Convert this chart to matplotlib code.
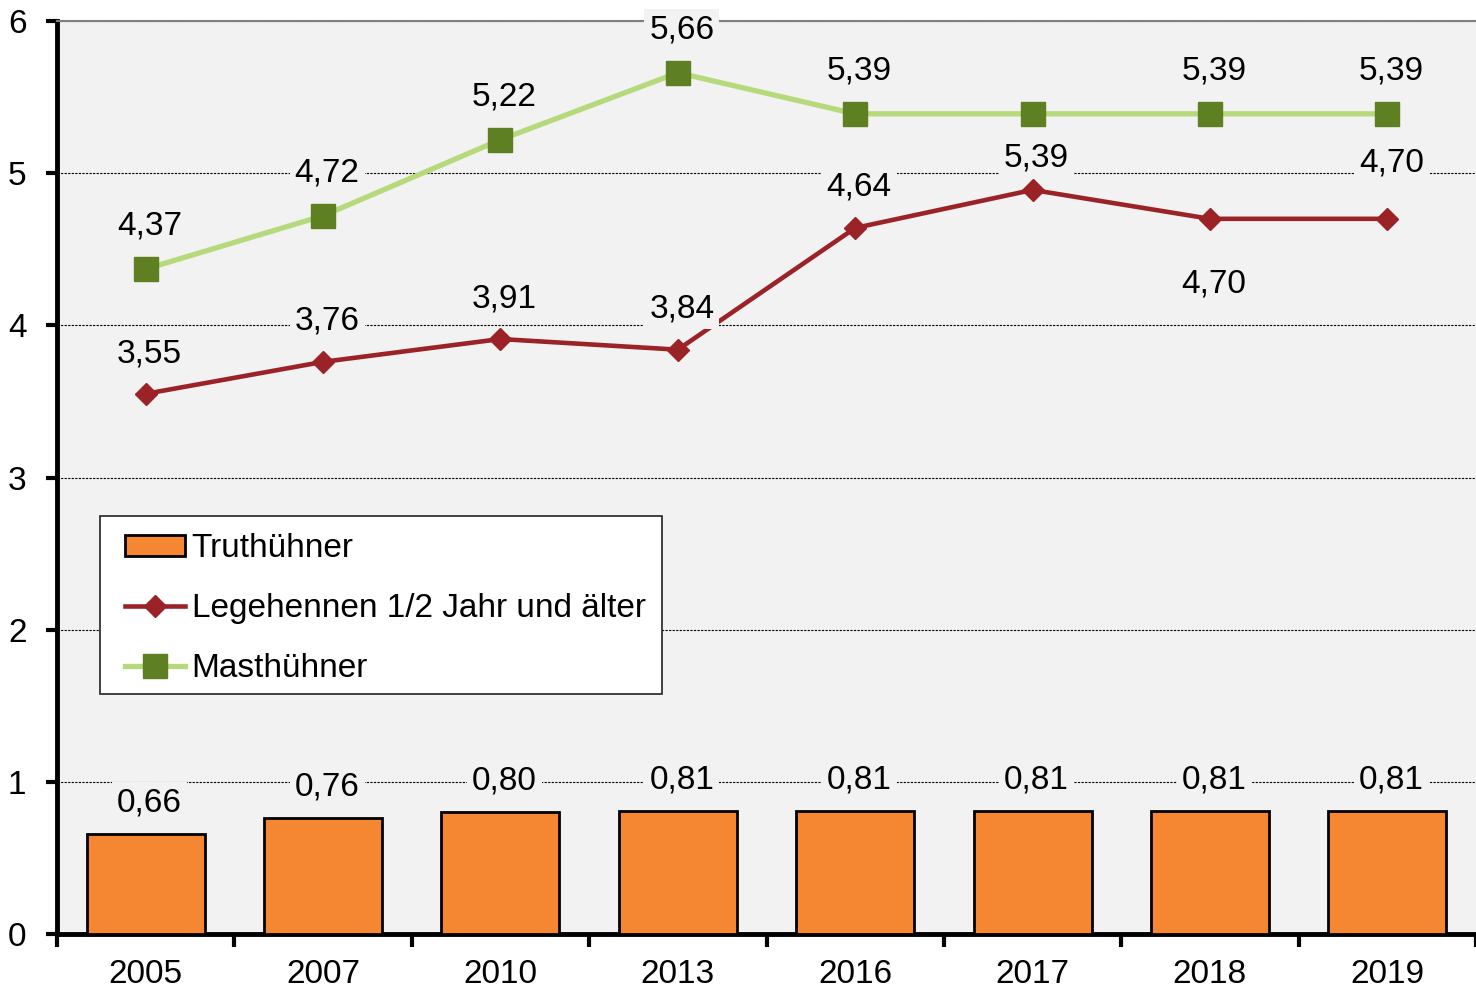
import numpy as np
import matplotlib
matplotlib.use('Agg')
import matplotlib.pyplot as plt
from matplotlib.patches import Patch, Rectangle
from matplotlib.lines import Line2D

plt.rcParams['font.family'] = ['Liberation Sans', 'DejaVu Sans']

years = ['2005', '2007', '2010', '2013', '2016', '2017', '2018', '2019']
truthuehner = [0.66, 0.76, 0.80, 0.81, 0.81, 0.81, 0.81, 0.81]
legehennen = [3.55, 3.76, 3.91, 3.84, 4.64, 4.89, 4.70, 4.70]
masthuehner = [4.37, 4.72, 5.22, 5.66, 5.39, 5.39, 5.39, 5.39]

# labels as printed in the source chart
trut_labels = ['0,66', '0,76', '0,80', '0,81', '0,81', '0,81', '0,81', '0,81']
lege_labels = ['3,55', '3,76', '3,91', '3,84', '4,64', '5,39', '4,70', '4,70']
mast_labels = ['4,37', '4,72', '5,22', '5,66', '5,39', '', '5,39', '5,39']

bg = '#f2f2f2'
c_bar = '#f58733'
c_lege = '#9b2327'
c_mast_line = '#b6d97c'
c_mast_mark = '#5e7f22'

W, H = 1476, 989
fig = plt.figure(figsize=(W / 100, H / 100), dpi=100)
ax = fig.add_axes([57 / W, 1 - 934 / H, 1419 / W, 913 / H])
ax.set_facecolor(bg)

x = np.arange(len(years))
ax.bar(x, truthuehner, width=0.665, color=c_bar, edgecolor='black', linewidth=2, zorder=3)
ax.plot(x, legehennen, color=c_lege, linewidth=3.3, marker='D', markersize=11, zorder=4)
ax.plot(x, masthuehner, color=c_mast_line, linewidth=3.8, marker='s', markersize=17,
        markerfacecolor=c_mast_mark, markeredgecolor=c_mast_mark, zorder=4)

box = dict(boxstyle='square,pad=0.15', facecolor=bg, edgecolor='none')
fs = 24

def label(xi, yi, txt, dy):
    if txt:
        ax.annotate(txt, (xi, yi), xytext=(4, dy), textcoords='offset pixels',
                    ha='center', va='center', fontsize=fs, bbox=box, zorder=6,
                    annotation_clip=False)

for i in x:
    label(i, truthuehner[i], trut_labels[i], 31)
    label(i, masthuehner[i], mast_labels[i], 43)

lege_dy = [40, 41, 40, 41, 41, 32, -65, 56]
for i in x:
    label(i, legehennen[i], lege_labels[i], lege_dy[i])

ax.set_xlim(-0.5, 7.5)
ax.set_ylim(0, 6)
ax.set_yticks(range(7))
ax.tick_params(axis='y', labelsize=fs, length=8, width=3, direction='out', pad=14)
ax.set_xticks(x)
ax.set_xticklabels(years, fontsize=fs)
ax.tick_params(axis='x', length=0, pad=18)
ax.set_xticks(np.arange(-0.5, 8, 1), minor=True)
ax.tick_params(axis='x', which='minor', length=9, width=3, direction='out')

ax.yaxis.grid(True, color='black', linestyle=(0, (2, 1.2)), linewidth=0.8, zorder=1)
ax.set_axisbelow(True)

for s in ['left', 'bottom']:
    ax.spines[s].set_linewidth(3.5)
    ax.spines[s].set_color('black')
ax.spines['top'].set_color('#808080')
ax.spines['top'].set_linewidth(1.5)
ax.spines['right'].set_visible(False)

# legend frame drawn separately so that it can be wider than the entries
frame = Rectangle((100 / W, 1 - 694 / H), 562 / W, 178 / H, transform=fig.transFigure,
                  facecolor='white', edgecolor='#222222', linewidth=1.2, zorder=7)
ax.add_artist(frame)
frame.set_clip_on(False)

handles = [
    Patch(facecolor=c_bar, edgecolor='black', linewidth=2),
    Line2D([], [], color=c_lege, linewidth=3.3, marker='D', markersize=11),
    Line2D([], [], color=c_mast_line, linewidth=3.8, marker='s', markersize=17,
           markerfacecolor=c_mast_mark, markeredgecolor=c_mast_mark),
]
leg = ax.legend(handles, ['Truthühner', 'Legehennen 1/2 Jahr und älter', 'Masthühner'],
                loc='upper left', bbox_to_anchor=(125 / W, 1 - 533 / H),
                bbox_transform=fig.transFigure,
                fontsize=fs, frameon=False, handlelength=1.8, handleheight=0.6,
                handletextpad=0.2, labelspacing=0.87, borderpad=0, borderaxespad=0)
leg.set_zorder(8)

fig.savefig('out.png', dpi=100)
